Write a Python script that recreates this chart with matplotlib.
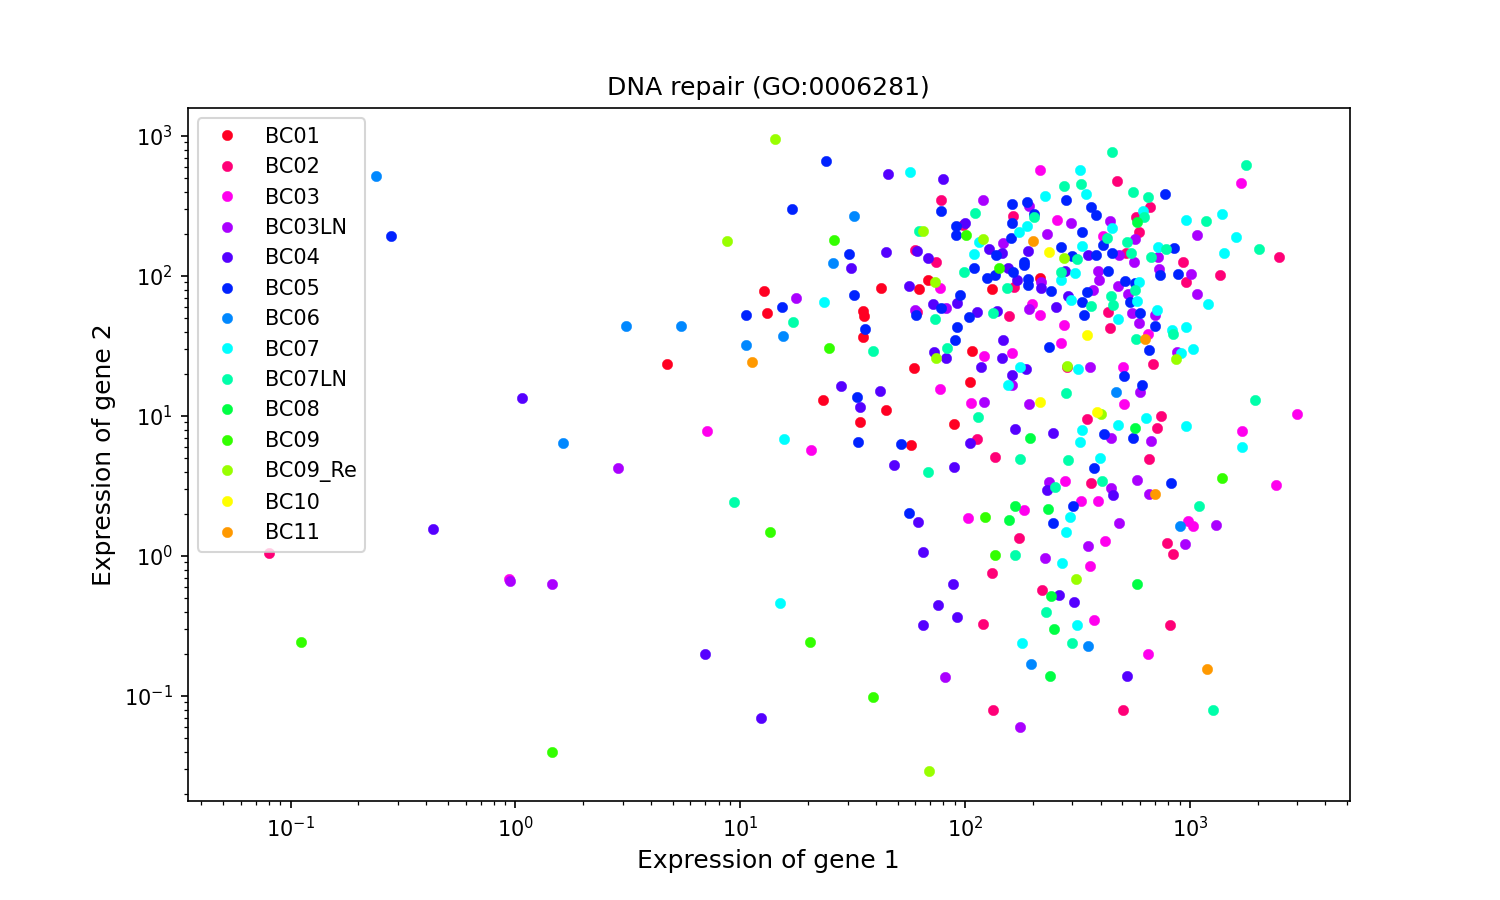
import matplotlib
matplotlib.use('Agg')
import matplotlib.pyplot as plt

# values
bc01_x = [4.74, 12.8, 13.2, 42.4, 35.2, 35.6, 35.2, 23.4, 34.1, 44.6, 57.5, 62.5, 68.5, 131, 107, 105, 215, 59.3, 89]
bc01_y = [23.5, 78, 54, 82, 56, 52, 36.7, 13, 9.06, 11, 6.2, 81, 94, 81, 29, 17.5, 97, 22, 8.8]

bc02_x = [0.08, 78, 474, 664, 575, 593, 163, 520, 931, 960, 1360, 2486, 157, 432, 441, 685, 284, 74, 60, 98,
          165, 61, 113, 135, 348, 743, 713, 657, 363, 174, 790, 132, 220, 120, 815, 133, 504, 840]
bc02_y = [1.05, 349, 477, 311, 264, 206, 268, 146, 126, 91, 101, 137, 52, 55, 42.5, 23.5, 22.4, 126, 153, 231,
          83, 55, 6.8, 5.1, 9.5, 10, 8.2, 4.9, 3.3, 1.35, 1.24, 0.76, 0.57, 0.327, 0.32, 0.079, 0.079, 1.03]

bc03_x = [7.1, 20.7, 0.94, 77, 106, 121, 162, 504, 509, 103, 183, 278, 328, 390, 419, 980, 1030, 359, 374, 650,
          1686, 2990, 1702, 2410, 215, 256, 410, 198, 215, 275, 267, 650, 77]
bc03_y = [7.8, 5.7, 0.685, 15.6, 12.4, 27, 28, 22.4, 12.2, 1.87, 2.13, 3.43, 2.47, 2.47, 1.28, 1.78, 1.64, 0.85, 0.35, 0.2,
          462, 10.3, 7.8, 3.2, 571, 251, 193, 63, 53, 45, 33, 38.5, 82]

bc03ln_x = [2.87, 0.95, 1.46, 17.6, 120, 192, 296, 231, 148, 441, 570, 1074, 483, 721, 564, 728, 1010, 390, 394, 479,
            371, 530, 1075, 552, 699, 593, 192, 875, 359, 218, 82, 60, 121, 192, 600, 162, 445, 671, 236, 581,
            445, 657, 483, 352, 950, 1306, 227, 81.5, 176]
bc03ln_y = [4.25, 0.66, 0.63, 70, 349, 316, 239, 200, 172, 247, 184, 196, 141, 137, 126, 112, 103, 109, 94, 85,
            79, 74, 74, 54, 53, 46, 58, 28.6, 22.4, 91, 59, 57, 12.6, 12.2, 14.8, 16.6, 7, 6.6, 3.4, 3.5,
            3.06, 2.77, 1.72, 1.18, 1.22, 1.66, 0.97, 0.137, 0.06]

bc04_x = [1.07, 0.432, 7, 12.4, 28, 34, 42, 31, 44.6, 45.5, 80, 48.3, 61.8, 65, 88, 76, 65, 92, 262, 305,
          525, 89, 167, 246, 231, 455, 105, 117, 146, 162, 187, 82, 73, 61, 68, 56, 72, 92, 113, 139,
          148, 128, 146, 191, 352, 155, 170, 218, 254, 287, 278, 100]
bc04_y = [13.4, 1.56, 0.2, 0.07, 16.4, 11.6, 15, 114, 148, 535, 493, 4.47, 1.75, 1.07, 0.63, 0.447, 0.32, 0.367, 0.526, 0.47,
          0.139, 4.3, 8.07, 7.57, 2.96, 2.73, 6.4, 22.4, 26, 19.6, 21.7, 26, 28.6, 151, 135, 85, 63, 64, 55, 56,
          35, 156, 146, 151, 141, 114, 94, 82, 60, 72, 109, 239]

bc05_x = [0.281, 24, 17, 30.5, 32, 10.6, 15.4, 36, 33, 33.5, 52, 56.4, 78, 91, 91, 162, 189, 281, 203, 162,
          160, 331, 363, 382, 267, 137, 183, 183, 299, 382, 109, 125, 136, 163, 191, 191, 241, 349, 331, 338,
          95, 78, 60.6, 104, 92, 90, 236, 774, 410, 450, 849, 433, 736, 885, 514, 570, 541, 600, 699, 657,
          509, 612, 415, 558, 374, 824, 302, 246]
bc05_y = [193, 662, 301, 144, 73, 53, 60, 42, 13.7, 6.5, 6.3, 2.03, 291, 228, 196, 327, 338, 349, 277, 239,
          187, 206, 311, 273, 161, 141, 126, 120, 139, 141, 114, 97, 102, 107, 95, 86, 78, 77, 65, 53,
          73, 59, 53, 51, 43, 35, 31, 385, 166, 146, 158, 109, 102, 103, 92, 89, 65, 54, 44, 29.6,
          19.3, 16.6, 7.4, 7, 4.25, 3.32, 2.27, 1.72]

bc06_x = [0.241, 3.11, 5.47, 10.6, 15.5, 1.62, 32, 25.9, 469, 903, 197, 352]
bc06_y = [518, 44, 44, 32, 37, 6.4, 268, 124, 14.8, 1.64, 0.17, 0.228]

bc07_x = [57, 23.6, 15.7, 15, 227, 324, 345, 189, 174, 331, 115, 109, 308, 267, 296, 618, 960, 450, 721, 593,
          581, 713, 479, 1202, 960, 832, 912, 1030, 176, 318, 1387, 1600, 1416, 155, 331, 324, 479, 637, 960, 398,
          293, 281, 270, 315, 179, 1702]
bc07_y = [553, 65, 6.85, 0.46, 373, 571, 385, 228, 206, 164, 175, 144, 105, 94, 67, 291, 251, 220, 161, 91,
          66, 57, 49, 63, 43, 41, 28, 30, 22.4, 21.7, 277, 190, 146, 16.6, 7.94, 6.5, 8.6, 9.7, 8.5, 5,
          1.9, 1.48, 0.89, 0.32, 0.239, 6]

bc07ln_x = [9.4, 17.2, 39, 450, 1774, 111, 62.5, 275, 328, 203, 558, 650, 625, 1178, 428, 525, 782, 671, 547, 315,
            267, 154, 570, 445, 455, 363, 840, 575, 2027, 99, 73.5, 133, 83, 114, 281, 68, 176, 287, 406, 251,
            1097, 1945, 167, 229, 299, 1265]
bc07ln_y = [2.43, 47, 29, 769, 621, 282, 210, 440, 454, 264, 398, 366, 264, 247, 187, 175, 156, 137, 146, 132,
            107, 82, 79, 72, 62, 61, 38.5, 35.5, 156, 107, 49, 54, 30.6, 9.8, 14.6, 4, 4.93, 4.85, 3.43, 3.11,
            2.27, 13, 1.02, 0.398, 0.24, 0.08]

bc08_x = [581, 194, 570, 167, 234, 157, 581, 241, 249, 239]
bc08_y = [243, 7, 8.2, 2.27, 2.17, 1.81, 0.63, 0.518, 0.3, 0.139]

bc09_x = [13.5, 39, 20.5, 1.45, 0.111, 135, 123, 1387, 141, 101, 26.2, 24.9]
bc09_y = [1.49, 0.098, 0.243, 0.04, 0.243, 1.02, 1.9, 3.6, 114, 196, 181, 30.6]

bc09re_x = [14.2, 8.75, 65, 120, 73.5, 74, 284, 866, 402, 311, 69, 275]
bc09re_y = [953, 178, 210, 184, 91, 26, 22.8, 25.5, 10.3, 0.685, 0.029, 135]

bc10_x = [236, 349, 215, 386]
bc10_y = [148, 38, 12.6, 10.7]

bc11_x = [11.3, 200, 631, 699, 1190]
bc11_y = [24.3, 178, 35.5, 2.77, 0.156]

labels = ['BC01', 'BC02', 'BC03', 'BC03LN', 'BC04', 'BC05', 'BC06', 'BC07', 'BC07LN',
          'BC08', 'BC09', 'BC09_Re', 'BC10', 'BC11']
colors = ['#ff0022', '#ff0077', '#ff00ee', '#aa00ff', '#5500ff', '#0022ff', '#0088ff', '#00ffff',
          '#00ffaa', '#00ff44', '#33ff00', '#99ff00', '#ffff00', '#ff9900']
xs = [bc01_x, bc02_x, bc03_x, bc03ln_x, bc04_x, bc05_x, bc06_x, bc07_x, bc07ln_x, bc08_x, bc09_x, bc09re_x, bc10_x, bc11_x]
ys = [bc01_y, bc02_y, bc03_y, bc03ln_y, bc04_y, bc05_y, bc06_y, bc07_y, bc07ln_y, bc08_y, bc09_y, bc09re_y, bc10_y, bc11_y]

fig, ax = plt.subplots(figsize=(10, 6))
for x, y, label, color in zip(xs, ys, labels, colors):
    ax.plot(x, y, 'o', color=color, markersize=5, markeredgewidth=0.2, label=label)

ax.set_xscale('log')
ax.set_yscale('log')
ax.set_xlim(0.0348, 5143)
ax.set_ylim(0.0178, 1585)
ax.set_xlabel('Expression of gene 1', fontsize=12)
ax.set_ylabel('Expression of gene 2', fontsize=12)
ax.set_title('DNA repair (GO:0006281)')
ax.legend(loc='upper left')

fig.savefig('out.png', dpi=150)
